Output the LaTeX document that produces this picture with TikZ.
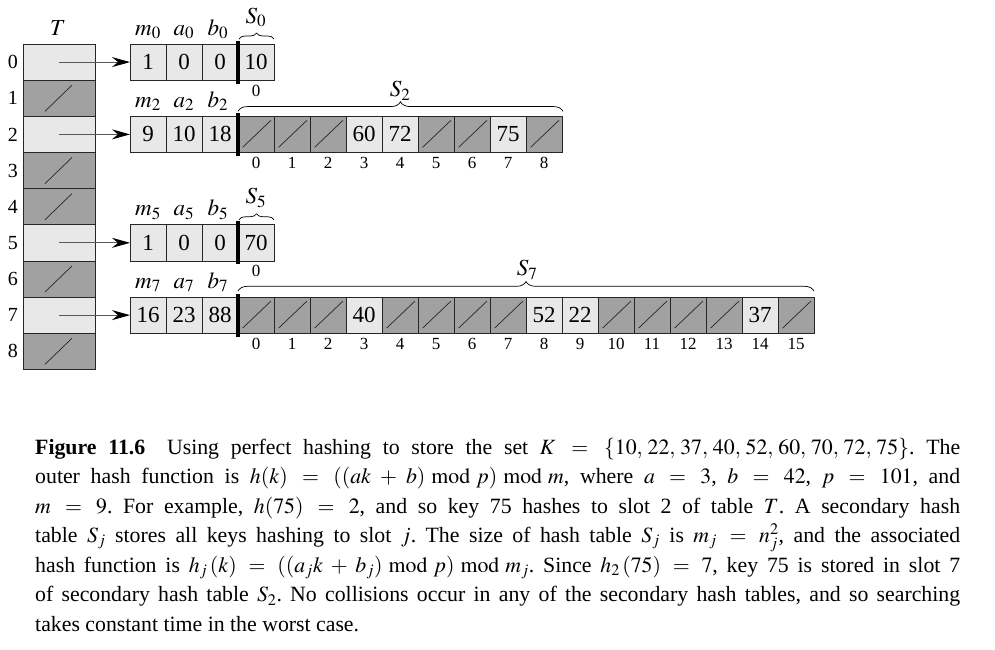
\documentclass[tikz,border=0pt]{standalone}
\usepackage{mathptmx}
\usepackage[no-math]{fontspec}
\setmainfont{Liberation Serif}
\usetikzlibrary{arrows.meta,decorations.pathreplacing}
\definecolor{lightg}{gray}{0.91}
\definecolor{darkg}{gray}{0.63}
\definecolor{arrowg}{gray}{0.35}
\newcommand\cellfont{\fontsize{23}{27}\selectfont}
\newcommand\lblfont{\fontsize{23}{27}\selectfont}
\newcommand\idxfont{\fontsize{17}{20}\selectfont}
\newcommand\capfont{\fontsize{21.8}{29.5}\selectfont}
\newcommand\myslot[4]{\edef\tmpv{#4}\def\tmpx{x}\ifx\tmpv\tmpx\def\mynext{\node[dcell] (#1) at (#2,#3) {};}\else\def\mynext{\node[lcell] (#1) at (#2,#3) {#4};}\fi\mynext}
\begin{document}
\begin{tikzpicture}[x=1pt,y=-1pt,
 cell/.style={draw=black!85, line width=0.7pt, minimum width=36pt, minimum height=36.15pt, inner sep=0pt, outer sep=0pt, anchor=north west, font=\cellfont},
 lcell/.style={cell, fill=lightg},
 dcell/.style={cell, fill=darkg, path picture={\draw[line width=0.7pt] ([shift={(4.5pt,5pt)}]path picture bounding box.south west) -- ([shift={(-3pt,-4pt)}]path picture bounding box.north east);}},
 tcell/.style={cell, minimum width=72pt, fill=lightg},
 tdark/.style={cell, minimum width=72pt, fill=darkg, path picture={\draw[line width=0.7pt] ([shift={(22pt,5pt)}]path picture bounding box.south west) -- ([shift={(49pt,-5pt)}]path picture bounding box.north west);}},
 lbl/.style={anchor=base, inner sep=0pt, font=\lblfont},
 idx/.style={anchor=base, inner sep=0pt, font=\idxfont},
 rowlbl/.style={inner sep=0pt, font=\fontsize{20}{22}\selectfont},
 ptr/.style={draw=arrowg, line width=0.9pt, -{Stealth[length=18pt,width=10pt,inset=6pt,color=black]}},
 divider/.style={line width=3.3pt},
 brc/.style={decorate, decoration={brace, amplitude=#1}, line width=0.7pt}
]
\useasboundingbox (0,0) rectangle (995,649);
% outer table T
\node[lbl] (Tlbl) at (58,35) {$T$};
\foreach \i in {0,2,5,7} \node[tcell] (T\i) at (23,{44+\i*36.15}) {};
\foreach \i in {1,3,4,6,8} \node[tdark] (T\i) at (23,{44+\i*36.15}) {};
\foreach \i in {0,...,8} \node[rowlbl] (R\i) at (13,{44+(\i+0.5)*36.15}) {\i};
% header cells and pointers
\foreach \r/\m/\a/\b in {0/1/0/0,2/9/10/18,5/1/0/0,7/16/23/88}{
  \pgfmathsetmacro\yy{44+\r*36.15}
  \node[lcell] (h\r-0) at (130,\yy) {\m};
  \node[lcell] (h\r-1) at (166,\yy) {\a};
  \node[lcell] (h\r-2) at (202,\yy) {\b};
  \node[lbl] (lm\r) at (148,\yy-9) {$m_{\r}$};
  \node[lbl] (la\r) at (184,\yy-9) {$a_{\r}$};
  \node[lbl] (lb\r) at (218,\yy-9) {$b_{\r}$};
  \draw[ptr] (T\r.center) -- (h\r-0.west);
}
% secondary tables
\foreach \r/\list in {0/{10},2/{x,x,x,60,72,x,x,75,x},5/{70},7/{x,x,x,40,x,x,x,x,52,22,x,x,x,x,37,x}}{
  \pgfmathsetmacro\yy{44+\r*36.15}
  \foreach \v [count=\k from 0] in \list {
    \myslot{s\r-\k}{238+36*\k}{\yy}{\v}
    \node[idx] (i\r-\k) at ({256+36*\k},\yy+36.15+16) {\k};
  }
  \draw[divider] (238,\yy-3.5) -- (238,\yy+39.5);
}
% braces and labels
\draw[brc=6pt] (239,39) -- (274,39);
\node[lbl] (S0) at (256,23) {$S_0$};
\draw[brc=6pt] (239,{44+5*36.15-5}) -- (274,{44+5*36.15-5});
\node[lbl] (S5) at (256,{44+5*36.15-21}) {$S_5$};
\draw[brc=9.5pt] (238,{44+2*36.15-5}) -- (563,{44+2*36.15-5});
\node[lbl] (S2) at (400,{44+2*36.15-19.5}) {$S_2$};
\draw[brc=9.5pt] (238,{44+7*36.15-6}) -- (814,{44+7*36.15-6});
\node[lbl] (S7) at (527,{44+7*36.15-21.5}) {$S_7$};
% caption
\node[anchor=north west, inner sep=0pt, text width=925pt, align=justify, font=\capfont] (cap) at (35,433.35) {\noindent\frenchspacing\thickmuskip=6mu plus 3mu\medmuskip=4.5mu plus 1.5mu minus 1mu\strut\textbf{Figure 11.6}\quad Using perfect hashing to store the set $K = \{10,\,22,\,37,\,40,\,52,\,60,\,70,\,72,\,75\}$. The\linebreak
outer hash function is $h(k) = ((ak + b) \bmod p) \bmod m$, where $a = 3$, $b = 42$, $p = 101$, and\linebreak
$m = 9$. For example, $h(75) = 2$, and so key 75 hashes to slot 2 of table $T$. A secondary hash\linebreak
table $S_j$ stores all keys hashing to slot $j$. The size of hash table $S_j$ is $m_j = n_j^2$, and the associated\linebreak
hash function is $h_j\,(k) = ((a_j k + b_j) \bmod p) \bmod m_j$. Since $h_2\,(75) = 7$, key 75 is stored in slot 7\linebreak
of secondary hash table $S_2$. No collisions occur in any of the secondary hash tables, and so searching\linebreak
takes constant time in the worst case.};
\end{tikzpicture}
\end{document}
